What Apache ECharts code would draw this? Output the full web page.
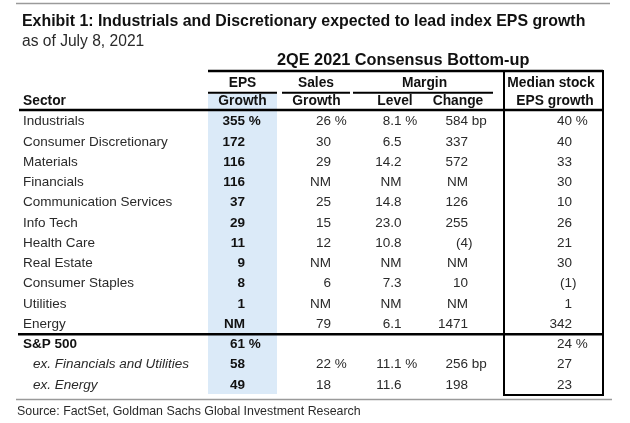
<!DOCTYPE html>
<html><head><meta charset="utf-8">
<script src="https://cdn.jsdelivr.net/npm/echarts@6/dist/echarts.min.js"></script>
<style>html,body{margin:0;padding:0;background:#fff}#c{width:630px;height:423px}</style>
</head><body><div id="c"></div>
<script>
// ---- data ----
const titleText = 'Exhibit 1: Industrials and Discretionary expected to lead index EPS growth';
const subtitleText = 'as of July 8, 2021';
const sourceText = 'Source: FactSet, Goldman Sachs Global Investment Research';
const groupHeader = '2QE 2021 Consensus Bottom-up';
const sectors = ['Industrials','Consumer Discretionary','Materials','Financials','Communication Services','Info Tech','Health Care','Real Estate','Consumer Staples','Utilities','Energy','S&P 500','ex. Financials and Utilities','ex. Energy'];
const epsGrowth = ['355 %','172','116','116','37','29','11','9','8','1','NM','61 %','58','49'];
const salesGrowth = ['26 %','30','29','NM','25','15','12','NM','6','NM','79','','22 %','18'];
const marginLevel = ['8.1 %','6.5','14.2','NM','14.8','23.0','10.8','NM','7.3','NM','6.1','','11.1 %','11.6'];
const marginChange = ['584 bp','337','572','NM','126','255','(4)','NM','10','NM','1471','','256 bp','198'];
const medianStockEps = ['40 %','40','33','30','10','26','21','30','(1)','1','342','24 %','27','23'];
const INDEX_ROW = 11;

// ---- layout / style ----
const F = '"Liberation Sans", Arial, sans-serif';
const TXT = '#2a2a2a', BLK = '#111', BLUE = '#dbeaf8', GRAY = '#9a9a9a';
const FS = 13.5, HFS = 13.8;
const COLS = [
  {vals: epsGrowth, x: 245, bold: true},
  {vals: salesGrowth, x: 331},
  {vals: marginLevel, x: 401.5},
  {vals: marginChange, x: 468},
  {vals: medianStockEps, x: 572}
];
function splitVal(s){ const m = s.match(/^(.*\d)(\D*)$/); return m ? [m[1], m[2]] : [s, '']; }
function txt(x, y, text, o){
  o = o || {};
  return {type:'text', silent:true, style:{x, y, text, fill:o.fill||TXT, fontFamily:F,
    fontSize:o.size||FS, fontWeight:o.bold?'bold':'normal', fontStyle:o.italic?'italic':'normal',
    align:o.align||'left', verticalAlign:'middle'}};
}
function gtxt(x, y, text, o){ const t = txt(x, y, text, o); t.z = 10; return t; }
function line(x1, y1, x2, y2, w, c){
  return {type:'line', silent:true, z:5, shape:{x1,y1,x2,y2}, style:{stroke:c||'#000', lineWidth:w}};
}

const chart = echarts.init(document.getElementById('c'), null, {renderer:'canvas'});
chart.setOption({
  animation:false,
  backgroundColor:'#fff',
  grid:{left:0, right:0, top:111.5, bottom:28},
  xAxis:{type:'value', min:0, max:630, show:false},
  yAxis:{type:'category', data:sectors, inverse:true, show:false},
  graphic:{elements:[
    {type:'rect', silent:true, z:1, shape:{x:208, y:93.5, width:69, height:300.5}, style:{fill:BLUE}},
    line(16, 3.5, 610, 3.5, 1.5, GRAY),
    gtxt(22, 21.5, titleText, {bold:true, size:15.9, fill:BLK}),
    gtxt(22, 42, subtitleText, {size:15.6}),
    gtxt(277, 61, groupHeader, {bold:true, size:16.3, fill:BLK}),
    line(208, 71, 603, 71, 2.5),
    gtxt(242.5, 83.5, 'EPS', {bold:true, size:HFS, align:'center', fill:BLK}),
    gtxt(242.5, 101, 'Growth', {bold:true, size:HFS, align:'center', fill:BLK}),
    gtxt(316, 83.5, 'Sales', {bold:true, size:HFS, align:'center', fill:BLK}),
    gtxt(316.5, 101, 'Growth', {bold:true, size:HFS, align:'center', fill:BLK}),
    gtxt(424.5, 83.5, 'Margin', {bold:true, size:HFS, align:'center', fill:BLK}),
    gtxt(395, 101, 'Level', {bold:true, size:HFS, align:'center', fill:BLK}),
    gtxt(458, 101, 'Change', {bold:true, size:HFS, align:'center', fill:BLK}),
    gtxt(551, 83.5, 'Median stock', {bold:true, size:HFS, align:'center', fill:BLK}),
    gtxt(555, 101, 'EPS growth', {bold:true, size:HFS, align:'center', fill:BLK}),
    gtxt(23, 101, 'Sector', {bold:true, size:HFS, fill:BLK}),
    line(208, 92.7, 277, 92.7, 2),
    line(282, 92.7, 350, 92.7, 2),
    line(353, 92.7, 493, 92.7, 2),
    line(19, 110, 603, 110, 2.5),
    line(504, 70, 504, 396, 2),
    line(603, 70, 603, 396, 2),
    line(503, 395, 604, 395, 2),
    line(16, 399.5, 612, 399.5, 1.5, GRAY),
    gtxt(17, 411.5, sourceText, {size:12.4})
  ]},
  series:[{
    type:'custom',
    coordinateSystem:'cartesian2d',
    data: sectors.map(s => [0, s]),
    encode:{x:0, y:1},
    z:3,
    renderItem(params, api){
      const i = params.dataIndex;
      const y = api.coord([0, api.value(1)])[1];
      const bh = api.size([0, 1])[1];
      const isIdx = i === INDEX_ROW, isSub = i > INDEX_ROW;
      const ch = [];
      ch.push(txt(isSub ? 33 : 23, y, sectors[i], {bold:isIdx, italic:isSub, fill:isIdx?BLK:TXT}));
      COLS.forEach(c => {
        const v = c.vals[i];
        if (!v) return;
        const [num, suf] = splitVal(v);
        const o = {bold:c.bold, fill:c.bold?BLK:TXT};
        ch.push(txt(c.x, y, num, Object.assign({align:'right'}, o)));
        if (suf) ch.push(txt(c.x, y, suf, o));
      });
      if (isIdx) {
        const yl = y - bh / 2;
        ch.push({type:'line', silent:true, shape:{x1:18, y1:yl, x2:603, y2:yl}, style:{stroke:'#000', lineWidth:2.5}});
      }
      return {type:'group', children:ch};
    }
  }]
});
</script></body></html>
